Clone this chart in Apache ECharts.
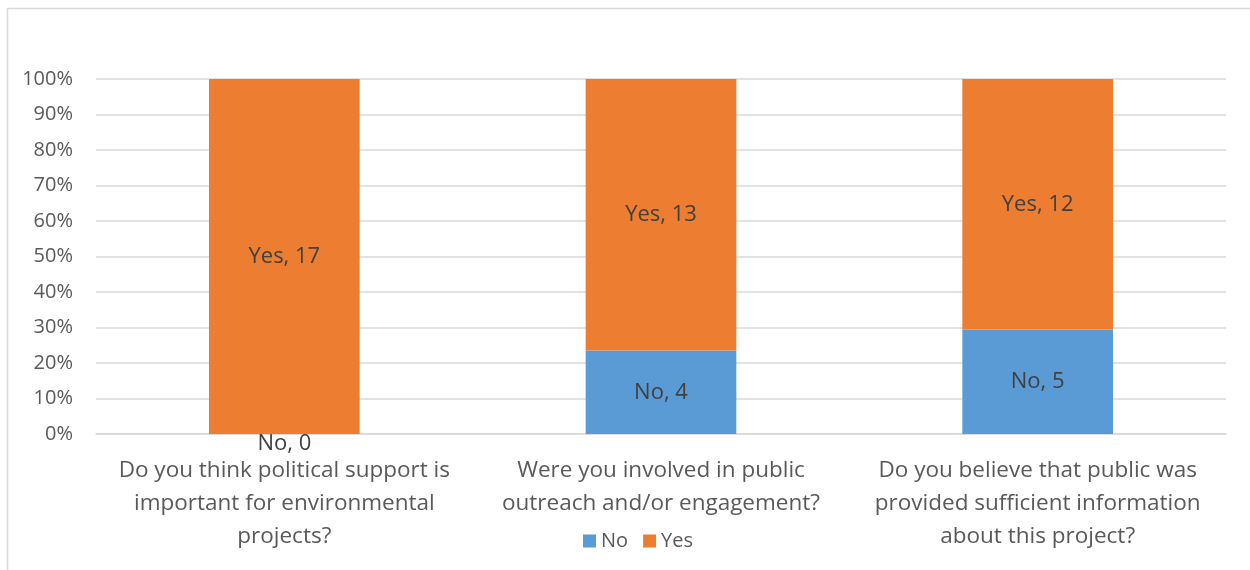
<!DOCTYPE html>
<html>
<head>
<meta charset="utf-8">
<script src="https://cdn.jsdelivr.net/npm/echarts@6/dist/echarts.min.js"></script>
<style>
  html, body { margin: 0; padding: 0; background: #ffffff; }
  #chart { width: 1250px; height: 570px; }
</style>
</head>
<body>
<div id="chart"></div>
<script>
// Survey questions (x-axis categories, wrapped as shown under the bars)
const categories = [
  'Do you think political support is\nimportant for environmental\nprojects?',
  'Were you involved in public\noutreach and/or engagement?',
  'Do you believe that public was\nprovided sufficient information\nabout this project?'
];
// Response counts per question
const noCounts = [0, 4, 5];
const yesCounts = [17, 13, 12];
// Y-axis scale (percent of responses)
const yMin = 0, yMax = 100, yStep = 10;

const totals = noCounts.map((n, i) => n + yesCounts[i]);
const toPct = (arr) => arr.map((v, i) => ({ value: v / totals[i] * 100, count: v }));

const FONT = '"Open Sans", Lato, sans-serif';
const TEXT = '#595959';

const noData = toPct(noCounts).map(d => d.count === 0
  ? Object.assign(d, { label: { offset: [0, 10] } })
  : d);

const chart = echarts.init(document.getElementById('chart'), null, { renderer: 'canvas' });
chart.setOption({
  animation: false,
  backgroundColor: '#ffffff',
  textStyle: { fontFamily: FONT },
  graphic: [{
    type: 'rect',
    shape: { x: 7.5, y: 8.5, width: 1300, height: 700 },
    style: { fill: 'none', stroke: '#d9d9d9', lineWidth: 1.5 },
    silent: true, z: -10
  }],
  grid: { left: 96, right: 24, top: 79, bottom: 136 },
  legend: {
    left: 578, top: 526,
    itemWidth: 13, itemHeight: 13, itemGap: 15,
    icon: 'rect',
    textStyle: { fontFamily: FONT, fontSize: 20, color: TEXT, padding: [0, 0, 0, 0] },
    data: ['No', 'Yes']
  },
  xAxis: {
    type: 'category',
    data: categories,
    axisLine: { lineStyle: { color: '#d9d9d9', width: 1.5 } },
    axisTick: { show: false },
    axisLabel: {
      fontFamily: FONT, fontSize: 22.5, color: TEXT,
      lineHeight: 33, margin: 20, interval: 0, align: 'center'
    }
  },
  yAxis: {
    type: 'value',
    min: yMin, max: yMax, interval: yStep,
    axisLine: { show: false },
    axisTick: { show: false },
    splitLine: { lineStyle: { color: '#d9d9d9', width: 1.5 } },
    axisLabel: {
      fontFamily: FONT, fontSize: 20, color: TEXT, margin: 23,
      formatter: '{value}%'
    }
  },
  series: [
    {
      name: 'No', type: 'bar', stack: 'total', barWidth: '40%',
      itemStyle: { color: '#5B9BD5' },
      label: {
        show: true, position: 'inside', fontFamily: FONT, fontSize: 22, color: '#404040',
        formatter: p => 'No, ' + p.data.count
      },
      data: noData
    },
    {
      name: 'Yes', type: 'bar', stack: 'total', barWidth: '40%',
      itemStyle: { color: '#ED7D31' },
      label: {
        show: true, position: 'inside', fontFamily: FONT, fontSize: 22, color: '#404040',
        formatter: p => 'Yes, ' + p.data.count
      },
      data: toPct(yesCounts)
    }
  ]
});
</script>
</body>
</html>
